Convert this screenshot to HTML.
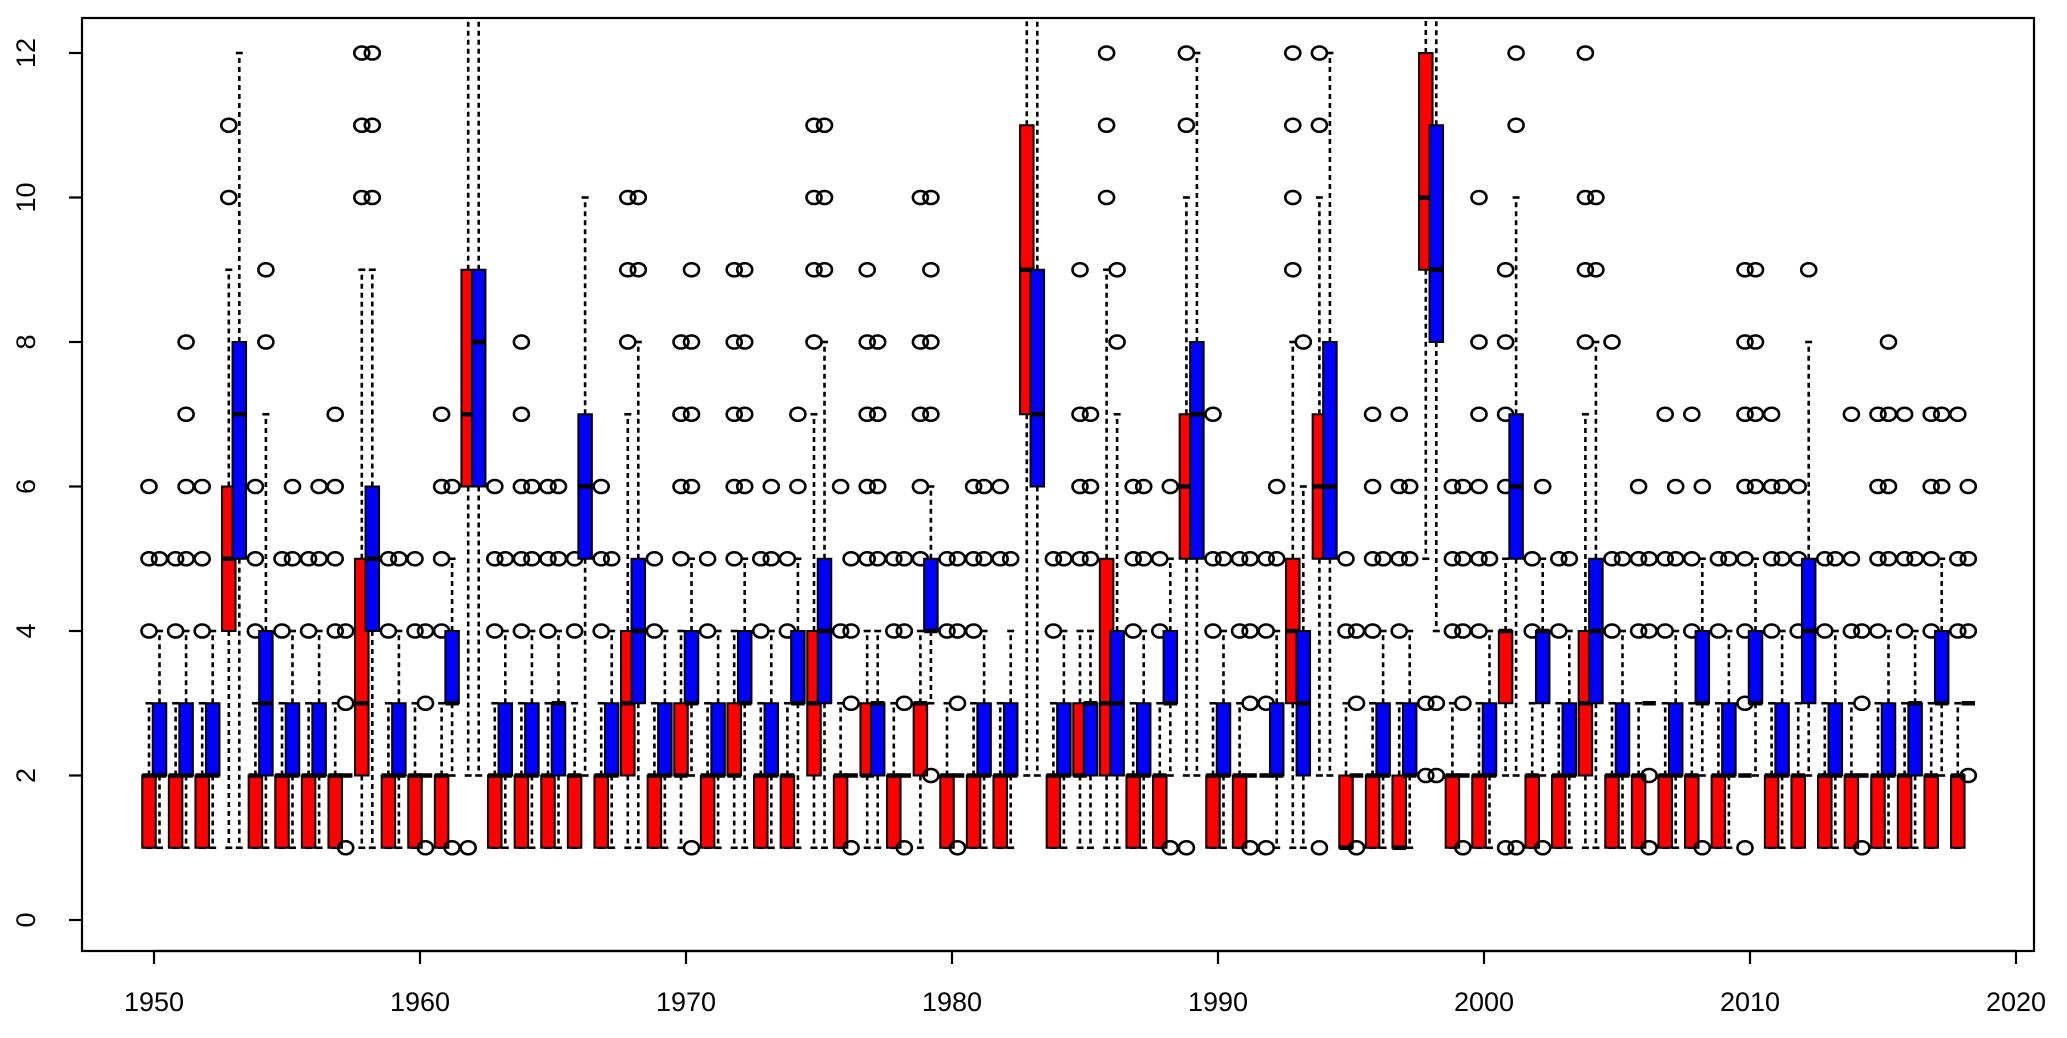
<!DOCTYPE html>
<html><head><meta charset="utf-8"><style>
body{margin:0;background:#fff}
svg{display:block}
text{font-family:"Liberation Sans",Arial,sans-serif;font-size:27px;fill:#000}
</style></head><body>
<svg id="chart" width="2067" height="1038" viewBox="0 0 2067 1038" xmlns="http://www.w3.org/2000/svg">
<defs><clipPath id="clip"><rect x="82" y="18" width="1952" height="933"/></clipPath></defs>
<g id="marks" clip-path="url(#clip)"></g>
<rect x="82" y="18" width="1952" height="933" fill="none" stroke="#000" stroke-width="2.2"/>
<g id="axes"></g>
</svg>
<script>
const years = [];
for (let y = 1950; y <= 2018; y++) years.push(y);
const xTicks = [1950,1960,1970,1980,1990,2000,2010,2020];
const yTicks = [0,2,4,6,8,10,12];
// red series: [lo, q1, median, q3, hi]
const redStats = [
[1,1,2,2,3],[1,1,2,2,3],[1,1,2,2,3],[1,4,5,6,9],[1,1,2,2,3],[1,1,2,2,3],[1,1,2,2,3],[1,1,2,2,3],[1,2,3,5,9],[1,1,2,2,3],
[1,1,2,2,3],[1,1,2,2,3],[2,6,7,9,14],[1,1,2,2,3],[1,1,2,2,3],[1,1,2,2,3],[1,1,2,2,3],[1,1,2,2,3],[1,2,3,4,7],[1,1,2,2,3],
[1,2,2,3,4],[1,1,2,2,3],[1,2,2,3,4],[1,1,2,2,3],[1,1,2,2,3],[1,2,3,4,7],[1,1,2,2,3],[1,2,2,3,4],[1,1,2,2,3],[1,2,3,3,4],
[1,1,2,2,3],[1,1,2,2,3],[1,1,2,2,3],[2,7,9,11,14],[1,1,2,2,3],[1,2,2,3,4],[1,2,3,5,9],[1,1,2,2,3],[1,1,2,2,3],[2,5,6,7,10],
[1,1,2,2,3],[1,1,2,2,3],[2,2,2,2,2],[1,3,4,5,8],[2,5,6,7,10],[1,1,1,2,3],[1,1,2,2,3],[1,1,1,2,3],[5,9,10,12,14],[1,1,2,2,3],
[1,1,2,2,3],[2,3,4,4,5],[1,1,2,2,3],[1,1,2,2,3],[1,2,3,4,7],[1,1,2,2,3],[1,1,2,2,3],[1,1,2,2,3],[1,1,2,2,3],[1,1,2,2,3],
[2,2,2,2,2],[1,1,2,2,3],[1,1,2,2,3],[1,1,2,2,3],[1,1,2,2,3],[1,1,2,2,3],[1,1,2,2,3],[1,1,2,2,3],[1,1,2,2,3]];
const redOut = [
[4,5,6],[4,5],[4,5,6],[10,11],[4,5,6],[4,5],[4,5],[4,5,6,7],[10,11,12],[4,5],
[4,5],[4,5,6,7],[1],[4,5,6],[4,5,6,7,8],[4,5,6],[4,5],[4,5,6],[8,9,10],[4,5],
[5,6,7,8],[4,5],[5,6,7,8,9],[4,5],[4,5],[8,9,10,11],[4,6],[5,6,7,8,9],[4,5],[5,6,7,8,10],
[4,5],[4,5,6],[5,6],[],[4,5],[5,6,7,9],[10,11,12],[4,5,6],[4,5],[1,11,12],
[4,5,7],[4,5],[1,3,4,5],[9,10,11,12],[1,11,12],[4,5],[4,5,6,7],[4,5,6,7],[2,3],[4,5,6],
[4,5,6,7,8,10],[1,6,7,8,9],[4,5],[4,5],[8,9,10,12],[4,5,8],[4,5,6],[4,5,7],[4,5,7],[4,5],
[1,3,4,5,6,7,8,9],[4,5,6,7],[4,5,6],[4,5],[4,5,7],[4,5,6,7],[4,5,7],[4,5,6,7],[4,5,7]];
// blue series: [lo, q1, median, q3, hi]
const blueStats = [
[1,2,2,3,4],[1,2,2,3,4],[1,2,2,3,4],[1,5,7,8,12],[1,2,3,4,7],[1,2,2,3,4],[1,2,2,3,4],[2,2,2,2,2],[1,4,5,6,9],[1,2,2,3,4],
[2,2,2,2,2],[2,3,3,4,5],[2,6,8,9,14],[1,2,2,3,4],[1,2,2,3,4],[1,2,3,3,4],[2,5,6,7,10],[1,2,2,3,4],[1,3,4,5,8],[1,2,2,3,4],
[2,3,3,4,5],[1,2,2,3,4],[1,3,3,4,5],[1,2,2,3,4],[1,3,3,4,5],[1,3,4,5,8],[2,2,2,2,2],[1,2,3,3,4],[2,2,2,2,2],[3,4,4,5,6],
[2,2,2,2,2],[1,2,2,3,4],[1,2,2,3,4],[2,6,7,9,14],[1,2,2,3,4],[1,2,3,3,4],[1,2,3,4,7],[1,2,2,3,4],[2,3,3,4,5],[2,5,7,8,12],
[1,2,2,3,4],[2,2,2,2,2],[1,2,2,3,4],[1,2,3,4,6],[2,5,6,8,12],[2,2,2,2,2],[1,2,2,3,4],[1,2,2,3,4],[4,8,9,11,14],[2,2,2,2,2],
[1,2,2,3,4],[2,5,6,7,10],[2,3,4,4,5],[1,2,2,3,4],[1,3,4,5,8],[1,2,2,3,4],[3,3,3,3,3],[1,2,2,3,4],[2,3,3,4,5],[1,2,2,3,4],
[2,3,3,4,5],[1,2,2,3,4],[2,3,4,5,8],[1,2,2,3,4],[2,2,2,2,2],[1,2,2,3,4],[1,2,3,3,4],[2,3,3,4,5],[3,3,3,3,3]];
const blueOut = [
[5],[5,6,7,8],[],[],[8,9],[5,6],[5,6],[1,3,4],[10,11,12],[5],
[1,3,4],[1,6],[],[5],[5,6],[5,6],[],[5],[9,10],[],
[1,6,7,8,9],[],[6,7,8,9],[5,6],[6,7],[9,10,11],[1,3,4,5],[5,6,7,8],[1,3,4,5],[2,7,8,9,10],
[1,3,4,5],[5,6],[5],[],[5],[5,6,7],[8,9],[5,6],[1,6],[],
[5],[1,3,4,5],[5,6],[8],[],[1,3,4],[5],[5,6],[2,3],[1,3,4,5,6],
[5],[1,11,12],[1,6],[5],[9,10],[5],[1,2,4,5],[5,6],[1,6],[5],
[6,7,8,9],[5,6],[9],[5],[1,3,4],[5,6,7,8],[5],[6,7],[2,4,5,6]];

const NS = "http://www.w3.org/2000/svg";
function xS(yr){ return 154 + (yr - 1950) * 26.6; }
function yS(v){ return 920 - v * 72.25; }
function mk(tag, attrs, parent){
  const e = document.createElementNS(NS, tag);
  for (const k in attrs) e.setAttribute(k, attrs[k]);
  parent.appendChild(e); return e;
}
const marks = document.getElementById('marks');
const axes = document.getElementById('axes');
const BW = 13.5;

function drawSeries(stats, outs, offset, color, label){
  stats.forEach((s, i) => {
    const g = mk('g', {}, marks);
    
    
    const cx = xS(years[i]) + offset;
    const [lo, q1, med, q3, hi] = s;
    const d = {stroke:'#000','stroke-width':2.6,'stroke-dasharray':'5,4'};
    if (hi > q3) { const w = mk('line', Object.assign({x1:cx,x2:cx,y1:yS(q3),y2:yS(hi)}, d), g);
        }
    if (lo < q1) { const w = mk('line', Object.assign({x1:cx,x2:cx,y1:yS(q1),y2:yS(lo)}, d), g);
        }
    const c1 = mk('line', {x1:cx-3.5,x2:cx+3.5,y1:yS(hi),y2:yS(hi),stroke:'#000','stroke-width':2.6}, g);
     
    const c2 = mk('line', {x1:cx-3.5,x2:cx+3.5,y1:yS(lo),y2:yS(lo),stroke:'#000','stroke-width':2.6}, g);
     
    const r = mk('rect', {x:cx-BW/2,y:yS(q3),width:BW,height:Math.max(0,yS(q1)-yS(q3)),fill:color,stroke:'#000','stroke-width':2}, g);
     
    const m = mk('line', {x1:cx-BW/2,x2:cx+BW/2,y1:yS(med),y2:yS(med),stroke:'#000','stroke-width':4.5}, g);
     
    outs[i].forEach(v => {
      const o = mk('ellipse', {cx:cx,cy:yS(v),rx:7.5,ry:6.5,fill:'none',stroke:'#000','stroke-width':2.6}, g);
       
    });
  });
}
drawSeries(redStats, redOut, -5, '#ff0000', 'red');
drawSeries(blueStats, blueOut, 5.5, '#0000ff', 'blue');

mk('line', {x1:xS(1950),x2:xS(2020),y1:951,y2:951,stroke:'#000','stroke-width':2.2}, axes);
xTicks.forEach(t => {
  const l = mk('line', {x1:xS(t),x2:xS(t),y1:951,y2:964,stroke:'#000','stroke-width':2.2}, axes);
   
  const tx = mk('text', {x:xS(t),y:1011,'text-anchor':'middle'}, axes);
   
  tx.textContent = t;
});
yTicks.forEach(t => {
  const l = mk('line', {x1:82,x2:69,y1:yS(t),y2:yS(t),stroke:'#000','stroke-width':2.2}, axes);
   
  const tx = mk('text', {x:35,y:yS(t),'text-anchor':'middle',transform:'rotate(-90 35 '+yS(t)+')'}, axes);
   
  tx.textContent = t;
});
</script>
</body></html>
